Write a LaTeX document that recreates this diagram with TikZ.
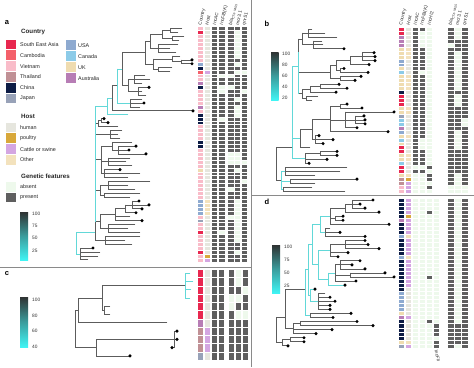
\documentclass[tikz,border=0pt]{standalone}
\usepackage{fontspec}
\setmainfont{Liberation Sans}
\definecolor{cS}{HTML}{E8274F}
\definecolor{cK}{HTML}{F4606A}
\definecolor{cV}{HTML}{F9BCC9}
\definecolor{cT}{HTML}{C09095}
\definecolor{cC}{HTML}{0D1C45}
\definecolor{cJ}{HTML}{98A2B8}
\definecolor{cU}{HTML}{8EAAD0}
\definecolor{cN}{HTML}{8CCBE8}
\definecolor{cE}{HTML}{EFDCB0}
\definecolor{cA}{HTML}{B77DB5}
\definecolor{cH}{HTML}{E6E6DE}
\definecolor{cP}{HTML}{D8A83A}
\definecolor{cX}{HTML}{D4A6E2}
\definecolor{cO}{HTML}{F3E2BD}
\definecolor{cZ}{HTML}{EEF9EC}
\definecolor{cY}{HTML}{5F5F5F}
\definecolor{treeg}{HTML}{5C5C5C}
\definecolor{cyanb}{HTML}{62D8D8}
\definecolor{frame}{HTML}{8A8A8A}
\definecolor{barT}{HTML}{2F3333}
\definecolor{barM}{HTML}{3A9D9D}
\definecolor{barB}{HTML}{40F4F4}
\tikzset{
  tr/.style={draw=treeg, line width=0.7pt, line cap=rect},
  cy/.style={draw=cyanb, line width=0.7pt, line cap=rect},
  cell/.style={draw=white, line width=0.15pt},
  lab/.style={font=\fontsize{5.4}{6}\selectfont, anchor=west, inner sep=0, text=black!85},
  ttl/.style={font=\bfseries\fontsize{6.2}{7}\selectfont, anchor=west, inner sep=0, text=black!85},
  hdr/.style={font=\fontsize{4.6}{5}\selectfont, rotate=77, anchor=west, inner sep=0, text=black!85},
  tick/.style={font=\fontsize{4.8}{5}\selectfont, anchor=west, inner sep=0, text=black!80},
  pl/.style={font=\bfseries\fontsize{7.5}{8}\selectfont, inner sep=0},
  bar/.style={top color=barT, bottom color=barB, middle color=barM},
  sep/.style={draw=frame, line width=1.3pt}
}
\newcommand\clade[5][tr]{\draw[#1] (#2,#3) -- (#2,#4);\foreach \yy/\xx in {#5}{\draw[#1] (#2,\yy) -- (\xx,\yy);}}
\newcommand\dts[1]{\foreach \xx/\yy in {#1}{\fill[black] (\xx,\yy) circle (1.7pt);}}
\newcommand\hbase[3]{\foreach \rr in {0,...,#2}{\path[cell,fill=#3] (#1,\rr-0.5) rectangle ++(6.5,1);}}
\newcommand\hovl[2]{\foreach \rr/\hcl in {#2}{\path[cell,fill=c\hcl] (#1,\rr-0.5) rectangle ++(6.5,1);}}
\newcommand\hset[3]{\foreach \rr in {#2}{\path[cell,fill=#3] (#1,\rr-0.5) rectangle ++(6.5,1);}}
\begin{document}
\begin{tikzpicture}[x=1pt,y=-1pt]
\useasboundingbox (0,0) rectangle (474,367);
\fill[white] (0,0) rectangle (474,367);
% separators
\coordinate (v1) at (251.5,0); \coordinate (v2) at (251.5,367);
\coordinate (h1) at (0,267.5); \coordinate (h2) at (251.5,267.5);
\coordinate (h3) at (251.5,195.7); \coordinate (h4) at (474,195.7);
\draw[sep] (v1) -- (v2);
\draw[sep] (h1) -- (h2);
\draw[sep] (h3) -- (h4);
% panel labels
\node[pl] (pa) at (7,23) {a};
\node[pl] (pb) at (267,24) {b};
\node[pl] (pc) at (7,274) {c};
\node[pl] (pd) at (267,202) {d};
% legend
\node[ttl] (tC) at (21,32) {Country};
\foreach \n/\col [count=\i from 0] in {South East Asia/cS,Cambodia/cK,Vietnam/cV,Thailand/cT,China/cC,Japan/cJ}{
  \fill[\col] (6,{39.5+10.8*\i}) rectangle ++(9.5,9.8);
  \node[lab] (lcl\i) at (20,{44.5+10.8*\i}) {\n};}
\foreach \n/\col [count=\i from 0] in {USA/cU,Canada/cN,UK/cE,Australia/cA}{
  \fill[\col] (66,{40.2+11*\i}) rectangle ++(9.5,9.8);
  \node[lab] (lcr\i) at (78,{45.2+11*\i}) {\n};}
\node[ttl] (tH) at (21,116.5) {Host};
\foreach \n/\col [count=\i from 0] in {human/cH,poultry/cP,Cattle or swine/cX,Other/cO}{
  \fill[\col] (6,{122.5+10.8*\i}) rectangle ++(9.5,9.8);
  \node[lab] (lh\i) at (20,{127.5+10.8*\i}) {\n};}
\node[ttl] (tG) at (21,176) {Genetic features};
\foreach \n/\col [count=\i from 0] in {absent/cZ,present/cY}{
  \fill[\col] (6,{181.7+10.8*\i}) rectangle ++(9.5,9.8);
  \node[lab] (lg\i) at (20,{186.7+10.8*\i}) {\n};}
% colour bars
\shade[bar] (20,212) rectangle (28,260);
\foreach \t/\yv [count=\i] in {100/213.5,75/226,50/238,25/250.5}{\node[tick] (ta\i) at (32,\yv) {\t};}
\shade[bar] (20,297) rectangle (28,347);
\foreach \t/\yv [count=\i] in {100/300,80/315.7,60/331,40/346.5}{\node[tick] (tc\i) at (32,\yv) {\t};}
\shade[bar] (271,52) rectangle (278.5,100);
\foreach \t/\yv [count=\i] in {100/53.5,80/64.5,60/75.5,40/86.5,20/97.5}{\node[tick] (tb\i) at (282,\yv) {\t};}
\shade[bar] (272,245) rectangle (280,293);
\foreach \t/\yv [count=\i] in {100/246.5,75/259.5,50/272.5,25/285.5}{\node[tick] (td\i) at (284,\yv) {\t};}
% headers
\foreach \t/\xv [count=\i] in {Country/200.2,Host/206.7,IncAC/214.2,IncFIB(K)/221.7,bla\textsubscript{CTX-M-55}/230.7,mcr3.1/237.2,qnrS1/244}{\node[hdr] (ha\i) at (\xv,25) {\t};}
\foreach \t/\xv [count=\i] in {Country/401,Host/408,IncAC/415,IncFIB(K)/422,IncHI2/429,bla\textsubscript{CTX-M-55}/450.5,mcr3.1/457,qnrS1/464.5}{\node[hdr] (hb\i) at (\xv,25) {\t};}
\node[font=\fontsize{4.6}{5}\selectfont, rotate=-77, anchor=west, inner sep=0, text=black!85] (hd6) at (436,350) {IncFII};
% ================= panel a
\begin{scope}[shift={(0,28.5)}, y=-3.92pt]
\clade{170}{0}{1}{0/182,1/178}
\clade{172}{2}{3}{2/184,3/179}
\clade{162}{0.5}{2.5}{0.5/170,2.5/172}
\clade{158}{4}{6}{4/178,5/170,6/176}
\clade{181}{8}{9}{8/192,9/192}
\clade{172}{7}{8.5}{7/180,8.5/181}
\clade{158}{10}{11}{10/172,11/170}
\clade{150}{1.5}{5}{1.5/162,5/158}
\clade{153}{7.75}{10.5}{7.75/172,10.5/158}
\clade{145}{3.25}{9.1}{3.25/150,9.1/153}
\clade{134}{12}{14}{12/145,13/150,14/142}
\clade{138}{15}{17}{15/149,16/142,17/146}
\clade{128}{13}{16}{13/134,16/138}
\clade{130}{18}{20}{18/142,19/144,20/140}
\clade{122}{6.2}{14.5}{6.2/145,14.5/128}
\clade[cy]{117}{10.3}{19}{10.3/122,19/130}
\clade{112}{14.6}{21}{14.6/117,21/193}
\clade[cy]{107}{17.8}{22}{17.8/112,22/128}
\clade{101}{23}{24}{23/104,24/108}
\clade{98}{23.5}{25}{23.5/101,25/118}
\clade{110}{26}{28}{26/122,27/118,28/120}
\clade{118}{30}{32}{30/136,31/129,32/146}
\clade{112}{29}{31}{29/132,31/118}
\clade{108}{33}{35}{33/130,34/126,35/132}
\clade{104}{36}{38}{36/120,37/140,38/128}
\clade{101}{30}{37}{30/112,34/108,37/104}
\clade{108}{39}{41}{39/150,40/128,41/135}
\clade{104}{42}{43}{42/140,43/130}
\clade{100}{40}{42.5}{40/108,42.5/104}
\clade{132}{44}{46}{44/139,45/149,46/142}
\clade{125}{45}{47}{45/132,47/136}
\clade{115}{46}{49}{46/125,48/130,49/142}
\clade{108}{50}{52}{50/135,51/128,52/140}
\clade{100}{47.5}{51}{47.5/115,51/108}
\clade{105}{53}{55}{53/140,54/125,55/132}
\clade{95}{19.9}{54}{24.2/98,27/110,33.5/101,41.2/100,49.2/100,54/105}
\draw[cy] (95,19.9) -- (95,49.2);
\draw[cy] (95,19.9) -- (107,19.9);
\clade{80}{56}{59}{56/93,57/100,58/98,59/88}
\clade[cy]{76}{52}{57.5}{52/95,57.5/80}
\dts{192/8,192/9,149/15,144/19,193/21,104/23,108/24,136/30,129/31,146/32,120/36,139/44,149/45,142/46,136/47,142/49,93/56}
% heatmap a
\hbase{197}{59}{cV}
\hovl{197}{1/S,9/U,10/C,11/K,14/A,15/C,20/A,22/C,23/C,24/C,29/C,30/C,36/E,44/U,45/U,46/U,47/U,49/J,52/S,57/S}
\hbase{203.6}{59}{cH}
\hovl{203.6}{11/X,44/O,45/O,46/O,47/O,58/P,59/X}
\hbase{211}{59}{cY}
\hbase{218.5}{59}{cY}
\hset{218.5}{12,15,16,23,52}{cZ}
\hbase{227.5}{59}{cY}
\hset{227.5}{12,15,32,33,34,41,48}{cZ}
\hbase{234}{59}{cY}
\hset{234}{1,2,3,4,5,6,7,9,11,18,20,21,22,32,33,34,36,44,45,46,47,48,49,50,51,52,53,54,57}{cZ}
\hbase{240.6}{59}{cY}
\hset{240.6}{11,16,34,39}{cZ}
\end{scope}
% ================= panel b
\begin{scope}[shift={(0,29)}, y=-3.95pt]
\clade{308}{0}{2}{0/312,1/325,2/337}
\clade{313}{3}{5}{3/322,4/323,5/344}
\clade{302}{1}{4}{1/308,4/313}
\clade{362}{6}{8}{6/374,7/375,8/375}
\clade{350}{7}{9}{7/362,9/369}
\clade{340}{10}{11}{10/344,11/368}
\clade{336}{8}{10.5}{8/350,10.5/340}
\clade{340}{12}{13}{12/361,13/355}
\clade{330}{9.25}{12.5}{9.25/336,12.5/340}
\clade{320}{14}{15}{14/339,15/347}
\clade{310}{14.5}{16}{14.5/320,16/336}
\clade{306}{17}{18}{17/318,18/312}
\clade{302}{15.2}{17.5}{15.2/310,17.5/306}
\clade{298}{2.5}{16.4}{2.5/302,10.9/330,16.4/302}
\draw[cy] (298,6) -- (298,16.4);
\clade{340}{19}{20}{19/347,20/362}
\clade{355}{22}{24}{22/364,23/365,24/365}
\clade{345}{21}{25}{21/394,23/355,25/357}
\clade{330}{19.5}{26}{19.5/340,23/345,26/388}
\clade{315}{27}{29}{27/319,28/333,29/323}
\clade{312}{22.8}{28}{22.8/330,28/315}
\clade{300}{25.4}{30}{25.4/312,30/310}
\clade{320}{31}{32}{31/337,32/337}
\clade{305}{31.5}{34}{31.5/320,33/327,34/309}
\clade[cy]{292}{9.5}{32.7}{9.5/298,27.7/300,32.7/305}
\clade{285}{35}{37}{35/347,36/340,37/315}
\clade{290}{38}{39}{38/357,39/315}
\clade{283}{40}{41}{40/312,41/345}
\clade[cy]{281}{36}{40.5}{36/285,38.5/290,40.5/283}
\clade{276}{30}{38.2}{30/292,38.2/281}
\dts{344/5,374/6,375/7,375/8,369/9,344/10,368/11,361/12,355/13,339/14,347/15,336/16,347/19,362/20,394/21,364/22,365/23,365/24,357/25,388/26,319/27,333/28,323/29,337/31,337/32,327/33,309/34,357/38}
% heatmap b
\hbase{398}{41}{cE}
\hovl{398}{0/S,1/S,2/A,3/A,4/A,8/U,9/U,11/N,16/C,17/S,18/S,19/S,22/J,23/N,24/N,25/A,26/U,28/N,30/S,31/S,34/N,35/S,36/S,38/T,39/T,40/V,41/V}
\hbase{404.6}{41}{cH}
\hovl{404.6}{5/O,6/O,7/O,12/O,13/O,14/O,15/O,20/O,21/O,27/O,32/O,33/O,37/O,38/P,39/X,40/X,41/X}
\hbase{412}{41}{cY}
\hset{412}{35,37,38,39,40,41}{cZ}
\hbase{419}{41}{cY}
\hset{419}{1,2,3,4,11,28,29,30,35,37,38,39,40,41}{cZ}
\hbase{426}{41}{cZ}
\hset{426}{35,37,38,40}{cY}
\hbase{447.5}{41}{cY}
\hset{447.5}{4,40,41}{cZ}
\hbase{454.1}{41}{cZ}
\hset{454.1}{3,4,5,16,20,21,22,23,24,25,31,32,33,34,35,36}{cY}
\hbase{461.5}{41}{cY}
\hset{461.5}{23,24,40,41}{cZ}
\end{scope}
% ================= panel d
\begin{scope}[shift={(0,200)}, y=-4.05pt]
\clade{352}{0}{2}{0/373,1/360,2/365}
\clade{345}{1}{3}{1/352,3/379}
\clade{335}{4}{5}{4/343,5/343}
\clade{330}{2}{6}{2/345,4.5/335,6/389}
\clade{325}{7}{9}{7/330,8/340,9/365}
\clade[cy]{320}{4}{8}{4/330,8/325}
\clade{345}{10}{12}{10/365,11/368,12/379}
\clade{330}{11}{14}{11/345,13/348,14/338}
\clade{340}{15}{17}{15/360,16/352,17/365}
\clade{350}{18}{19}{18/385,19/394}
\clade{335}{16}{20}{16/340,18.5/350,20/356}
\clade[cy]{328}{18}{21}{18/335,21/345}
\clade[cy]{318}{12.5}{19.5}{12.5/330,19.5/328}
\clade[cy]{312}{6}{16}{6/320,16/318}
\clade{318}{23}{27}{23/325,24/330,25/335,26/330,27/330}
\clade[cy]{310}{22}{25}{22/315,25/318}
\clade[cy]{308}{11}{23.5}{11/312,23.5/310}
\clade{310}{28}{29}{28/351,29/333}
\clade[cy]{305}{17}{28.5}{17/308,28.5/310}
\clade{300}{30}{31}{30/357,31/373}
\clade{293}{30.5}{33}{30.5/300,32/332,33/316}
\clade{290}{34}{35}{34/304,35/304}
\clade{282}{34.5}{36}{34.5/290,36/288}
\clade{285}{22}{31.7}{22/305,31.7/293}
\clade{276}{29}{35.2}{29/285,35.2/282}
\dts{373/0,360/1,365/2,379/3,343/4,343/5,389/6,340/8,365/9,365/10,368/11,379/12,348/13,338/14,360/15,352/16,365/17,385/18,394/19,356/20,345/21,315/22,330/24,335/25,330/26,330/27,351/28,333/29,357/30,373/31,332/32,316/33,304/34,304/35,288/36}
% heatmap d
\hbase{398}{36}{cC}
\hovl{398}{5/A,9/U,14/U,23/U,24/U,25/U,26/U,27/U,28/E,29/A,35/E,36/J}
\hbase{404.6}{36}{cX}
\hovl{404.6}{4/P,9/O,14/O,22/H,23/H,24/H,25/H,26/H,27/H,28/H,30/H,31/H,32/H,33/H,34/H,35/O}
\hbase{412}{36}{cZ}
\hbase{419}{36}{cZ}
\hbase{426}{36}{cZ}
\hset{426}{3,19,30}{cY}
\hbase{433}{36}{cZ}
\hset{433}{31,32,33,35,36}{cY}
\hbase{447.5}{36}{cY}
\hbase{454.1}{36}{cZ}
\hset{454.1}{31,32,33,34,35}{cY}
\hbase{461.5}{36}{cY}
\end{scope}
% ================= panel c
\begin{scope}[shift={(0,273.2)}, y=-8.27pt]
\clade[cy]{185}{0}{3}{0/190,1/193,2/191,3/190}
\clade{104}{4}{5}{4/110,5/110}
\clade{102}{1.5}{4.5}{1.5/185,4.5/104}
\clade{78}{3}{6}{3/102,6/167}
\clade{174}{7}{9}{7/177,8/177,9/172}
\clade{96}{8}{10}{8/174,10/130}
\clade{75}{4.5}{9}{4.5/78,9/96}
\dts{177/7,177/8,172/9,130/10}
\hbase{197}{10}{cS}
\hovl{197}{6/A,7/T,8/T,9/T,10/J}
\hbase{203.6}{10}{cH}
\hovl{203.6}{7/X,8/X,9/X}
\hbase{211}{10}{cY}
\hbase{218}{10}{cY}
\hbase{228}{10}{cY}
\hset{228}{3,4}{cZ}
\hbase{235}{10}{cY}
\hset{235}{0,1,3,5}{cZ}
\hbase{242}{10}{cY}
\hset{242}{2,5}{cZ}
\end{scope}
\end{tikzpicture}
\end{document}
